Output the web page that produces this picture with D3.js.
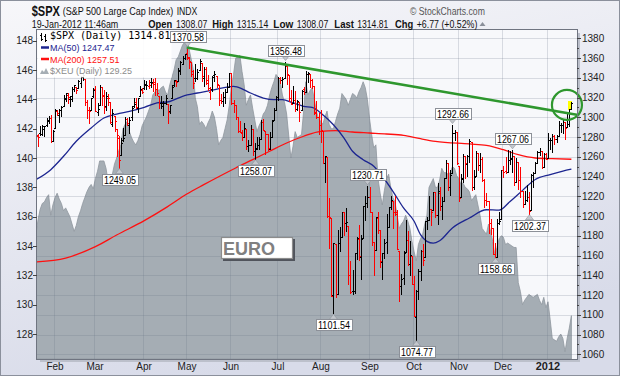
<!DOCTYPE html>
<html>
<head>
<meta charset="utf-8">
<script src="https://cdn.jsdelivr.net/npm/d3@7"></script>
<style>
html, body { margin: 0; padding: 0; background: #fff; }
svg { display: block; }
</style>
</head>
<body>
<div id="chart"></div>
<script>
// ---- Data (trading-day index 0 = 19-Jan-2011, 252 = 19-Jan-2012) ----
var spxOpen = [
1294.5,1280.9,1283.6,1283.3,1288.2,1291.9,1297.5,1299.6,1276.5,1289.1,
1305.9,1302.8,1307.0,1311.9,1318.8,1322.5,1318.1,1318.7,1328.7,1330.4,
1329.5,1334.4,1340.4,1338.9,1315.4,1307.1,1307.3,1321.6,1328.6,1305.5,
1312.4,1330.7,1322.7,1311.1,1319.9,1315.7,1293.4,1301.2,1288.5,1279.5,
1261.6,1276.7,1281.7,1298.3,1292.2,1300.6,1311.8,1315.5,1309.4,1321.9,
1327.4,1329.5,1333.6,1332.0,1335.9,1334.8,1336.2,1329.0,1321.9,1314.0,
1311.1,1314.5,1313.4,1305.9,1319.1,1333.2,1337.1,1336.7,1348.4,1353.9,
1360.1,1365.2,1359.8,1355.9,1344.2,1340.2,1340.2,1348.3,1354.5,1339.4,
1348.7,1334.8,1326.1,1328.5,1342.4,1342.0,1333.1,1317.7,1316.4,1320.6,
1325.7,1331.1,1345.2,1314.6,1312.9,1300.3,1286.3,1284.6,1279.6,1288.3,
1271.3,1272.2,1287.9,1265.5,1268.6,1271.5,1278.4,1295.5,1286.6,1283.0,
1268.4,1280.2,1296.9,1307.6,1320.6,1339.6,1337.6,1339.6,1352.4,1343.3,
1319.6,1314.5,1317.7,1308.9,1315.9,1307.1,1328.7,1325.7,1343.8,1344.3,
1337.4,1331.9,1304.8,1300.1,1292.6,1286.6,1254.2,1260.2,1200.3,1198.5,
1120.2,1171.8,1121.3,1172.9,1178.9,1204.2,1193.0,1189.6,1140.5,1123.6,
1124.4,1162.2,1176.7,1158.9,1177.9,1209.8,1213.0,1219.1,1203.9,1173.9,
1165.9,1198.0,1185.4,1153.5,1162.6,1173.3,1189.4,1209.2,1215.0,1204.5,
1203.6,1164.6,1128.8,1136.9,1163.3,1175.4,1151.7,1159.9,1131.2,1097.4,
1124.0,1144.1,1165.0,1158.2,1194.6,1196.2,1207.0,1205.7,1224.5,1200.8,
1223.5,1209.9,1215.4,1238.7,1254.2,1229.2,1244.0,1284.4,1285.0,1251.0,
1219.6,1238.2,1260.8,1253.2,1261.1,1275.2,1229.6,1240.1,1263.9,1251.7,
1257.8,1236.6,1216.2,1215.6,1193.0,1187.5,1161.4,1158.7,1192.6,1196.7,
1246.9,1246.0,1244.3,1257.2,1258.1,1260.9,1234.5,1255.1,1236.8,1225.7,
1212.1,1216.1,1219.7,1205.7,1241.3,1243.7,1254.0,1265.0,1265.4,1249.8,
1262.8,1258.9,1277.0,1277.3,1280.9,1277.8,1280.8,1292.0,1292.5,1294.8,
1290.2,1293.7,1308.07];

var spxHigh = [
1294.6,1283.4,1291.2,1291.9,1291.3,1299.7,1301.3,1302.7,1287.2,1308.9,
1307.6,1308.6,1311.0,1322.9,1324.9,1324.5,1322.0,1330.8,1332.9,1330.4,
1337.6,1341.5,1344.1,1338.9,1317.9,1310.9,1320.0,1329.4,1332.1,1314.2,
1332.3,1331.1,1327.7,1325.7,1323.2,1315.7,1308.4,1301.2,1288.5,1280.9,
1278.9,1288.9,1300.6,1299.4,1300.5,1311.3,1319.2,1319.7,1319.5,1331.7,
1329.8,1337.9,1336.7,1338.2,1339.5,1338.8,1339.5,1335.2,1321.9,1321.4,
1316.8,1322.9,1313.4,1312.7,1332.7,1337.5,1337.6,1349.6,1357.5,1361.7,
1364.6,1370.58,1360.8,1355.9,1348.0,1354.4,1349.4,1359.4,1354.5,1351.1,
1350.5,1343.3,1330.4,1341.8,1346.8,1342.0,1333.1,1323.7,1325.9,1328.5,
1334.6,1345.2,1345.2,1318.0,1312.9,1300.3,1296.2,1287.0,1294.5,1288.3,
1277.0,1292.5,1287.9,1274.1,1279.8,1280.4,1297.6,1298.6,1286.6,1283.0,
1284.9,1296.8,1309.2,1322.0,1341.0,1340.9,1340.9,1356.48,1352.4,1343.3,
1327.2,1331.5,1326.9,1317.7,1315.9,1328.1,1330.4,1347.0,1346.1,1344.3,
1338.5,1331.9,1316.3,1304.2,1307.4,1286.6,1261.2,1260.2,1218.1,1198.5,
1172.9,1171.8,1186.3,1189.0,1204.5,1204.2,1208.5,1189.6,1154.5,1145.5,
1162.4,1178.7,1190.7,1181.2,1210.1,1220.1,1230.71,1229.3,1203.9,1173.9,
1198.6,1204.4,1185.4,1162.5,1176.4,1202.4,1209.1,1220.1,1215.0,1220.4,
1206.3,1164.6,1141.7,1164.2,1195.9,1184.7,1175.1,1159.9,1139.0,1125.1,
1146.1,1165.6,1171.4,1194.9,1199.2,1220.3,1207.5,1224.6,1224.5,1233.1,
1229.6,1219.5,1239.0,1256.6,1254.2,1246.3,1292.66,1287.1,1285.0,1251.0,
1242.5,1263.2,1260.8,1261.7,1277.6,1275.2,1246.2,1266.0,1263.9,1264.3,
1259.6,1237.7,1223.5,1215.6,1196.8,1187.5,1172.7,1197.4,1203.7,1247.1,
1251.1,1260.1,1266.7,1266.0,1267.06,1260.9,1258.3,1255.1,1249.9,1225.7,
1225.6,1231.0,1224.6,1242.8,1245.1,1255.2,1265.4,1269.4,1265.9,1263.5,
1264.1,1284.6,1278.7,1283.1,1281.8,1282.0,1296.5,1293.8,1296.8,1294.8,
1303.0,1308.1,1315.14];

var spxLow = [
1278.9,1271.3,1282.1,1282.5,1281.1,1291.0,1294.4,1275.1,1275.9,1289.1,
1302.6,1294.8,1301.7,1311.9,1316.0,1314.9,1311.7,1316.1,1326.9,1324.6,
1329.5,1331.0,1338.1,1312.3,1299.6,1294.3,1307.3,1320.6,1306.1,1302.6,
1312.4,1312.6,1303.9,1306.9,1312.3,1294.2,1291.0,1286.4,1261.1,1249.05,
1261.6,1276.2,1281.7,1292.7,1284.0,1297.7,1310.2,1309.8,1305.3,1321.9,
1325.0,1328.9,1329.1,1330.0,1330.7,1326.6,1322.9,1322.4,1309.5,1309.2,
1302.4,1313.1,1294.7,1303.9,1319.1,1332.0,1331.7,1336.7,1344.2,1353.6,
1358.7,1358.6,1349.5,1341.5,1329.2,1336.4,1338.6,1348.3,1336.4,1332.0,
1333.4,1327.3,1318.5,1326.6,1336.8,1330.7,1312.6,1314.4,1311.8,1314.4,
1325.7,1331.1,1313.7,1305.6,1297.9,1284.9,1284.7,1277.5,1279.6,1268.3,
1265.6,1272.2,1261.9,1258.07,1267.4,1267.6,1278.4,1286.8,1262.9,1267.2,
1267.5,1280.2,1296.9,1307.6,1318.0,1334.3,1330.9,1339.6,1333.7,1316.4,
1313.3,1314.5,1306.5,1307.5,1295.9,1307.1,1323.7,1325.7,1336.0,1331.1,
1329.6,1303.6,1299.2,1282.9,1274.7,1254.0,1234.6,1199.5,1168.1,1119.3,
1101.54,1118.0,1121.3,1164.2,1178.9,1180.5,1184.4,1131.0,1122.1,1121.1,
1121.6,1156.3,1155.1,1135.9,1177.9,1195.8,1209.4,1203.9,1170.6,1140.1,
1165.9,1183.3,1148.4,1136.1,1157.4,1162.7,1189.4,1207.4,1188.4,1201.3,
1166.2,1114.2,1121.4,1131.1,1163.3,1150.4,1139.9,1131.3,1098.9,1074.77,
1116.1,1135.0,1150.3,1158.2,1187.3,1196.2,1190.6,1205.7,1198.6,1191.5,
1206.3,1197.3,1215.4,1238.7,1226.8,1221.1,1244.0,1277.0,1253.2,1215.4,
1219.6,1234.8,1238.9,1240.8,1255.0,1226.6,1227.7,1240.1,1246.7,1244.3,
1235.7,1209.4,1211.4,1183.2,1181.7,1161.8,1158.66,1158.7,1191.8,1196.7,
1239.7,1243.4,1244.3,1253.0,1244.8,1231.5,1234.5,1227.3,1219.4,1209.5,
1212.1,1215.2,1202.37,1205.7,1229.5,1243.7,1254.0,1262.3,1248.6,1249.8,
1257.5,1258.9,1268.1,1265.3,1273.3,1274.6,1280.8,1285.4,1284.0,1277.6,
1290.2,1291.0,1308.07];

var spxClose = [
1281.92,1280.26,1283.35,1290.84,1291.18,1296.63,1299.54,1276.34,1286.12,1307.59,
1304.03,1307.10,1310.87,1319.05,1324.57,1320.88,1321.87,1329.15,1332.32,1328.01,
1336.32,1340.43,1343.01,1315.44,1307.40,1306.10,1319.88,1327.22,1306.33,1308.44,
1330.97,1321.15,1310.13,1321.82,1320.02,1295.11,1304.28,1296.39,1281.87,1256.88,
1273.72,1279.21,1298.38,1293.77,1297.54,1309.66,1313.80,1310.19,1319.44,1328.26,
1325.83,1332.41,1332.87,1332.63,1335.54,1333.51,1328.17,1324.46,1314.16,1314.41,
1314.52,1319.68,1305.14,1312.62,1330.36,1337.38,1335.25,1347.24,1355.66,1360.48,
1363.61,1361.22,1356.62,1347.32,1335.10,1340.20,1346.29,1357.16,1342.08,1348.65,
1337.77,1329.47,1328.98,1340.68,1343.60,1333.27,1317.37,1316.28,1320.47,1325.69,
1331.10,1345.20,1314.55,1312.94,1300.16,1286.17,1284.94,1279.56,1289.00,1270.98,
1271.83,1287.87,1265.42,1267.64,1271.50,1278.36,1295.52,1287.14,1283.50,1268.45,
1280.10,1296.67,1307.41,1320.64,1339.67,1337.88,1339.22,1353.22,1343.80,1319.49,
1313.64,1317.72,1308.87,1316.14,1305.44,1326.73,1325.84,1343.80,1345.02,1337.43,
1331.94,1304.89,1300.67,1292.28,1286.94,1254.05,1260.34,1200.07,1199.38,1119.46,
1172.53,1120.76,1172.64,1178.81,1204.49,1192.76,1193.89,1140.65,1123.53,1123.82,
1162.35,1177.60,1159.27,1176.80,1210.08,1212.92,1218.89,1204.42,1173.97,1165.24,
1198.62,1185.90,1154.23,1162.27,1172.87,1188.68,1209.11,1216.01,1204.09,1202.09,
1166.76,1129.56,1136.43,1162.95,1175.38,1151.06,1160.40,1131.42,1099.23,1123.95,
1144.03,1164.97,1155.46,1194.89,1195.54,1207.25,1203.66,1224.58,1200.86,1225.38,
1209.88,1215.39,1238.25,1254.19,1229.05,1242.00,1284.59,1285.09,1253.30,1218.28,
1237.90,1261.15,1253.23,1261.12,1275.92,1229.10,1239.70,1263.85,1251.78,1257.81,
1236.91,1216.13,1215.65,1192.98,1188.04,1161.79,1158.67,1192.55,1195.19,1246.96,
1244.58,1244.28,1257.08,1258.47,1261.01,1234.35,1255.19,1236.47,1225.73,1211.82,
1215.75,1219.66,1205.35,1241.30,1243.72,1254.00,1265.33,1265.43,1249.64,1263.02,
1257.60,1277.06,1277.30,1281.06,1277.81,1280.70,1292.08,1292.48,1295.50,1289.09,
1293.67,1308.04,1314.81];

var xeuClose = [
134.8,135.8,136.5,136.9,137.0,137.3,137.5,136.1,136.8,137.3,
137.6,137.2,136.9,136.4,136.6,136.3,136.0,135.5,135.0,135.4,
136.0,136.4,136.9,137.3,137.7,138.0,138.2,137.9,138.6,139.1,
139.8,139.8,139.8,139.3,138.4,138.6,138.9,139.6,140.0,140.5,
140.9,142.0,142.3,142.5,141.8,141.4,141.1,140.9,141.2,141.6,
142.2,142.5,142.8,143.2,143.6,144.3,144.5,144.7,144.6,144.8,
144.9,144.5,144.3,145.0,145.5,146.0,146.7,146.9,147.3,147.7,
147.9,148.2,147.5,146.8,146.1,144.1,143.5,142.3,142.5,142.3,
142.0,142.4,142.7,143.2,142.8,142.0,140.9,141.2,141.4,142.0,
142.6,143.6,144.8,145.7,146.8,146.9,147.0,145.9,145.0,143.6,
144.0,144.3,143.4,142.6,141.8,142.2,142.5,143.0,143.2,143.6,
144.3,144.8,145.2,145.7,145.5,145.2,144.3,143.8,143.0,141.5,
140.0,140.8,141.8,141.4,141.5,141.6,143.2,145.2,144.3,144.6,
144.8,144.0,143.2,142.7,142.5,142.3,142.8,143.2,142.3,142.0,
142.0,142.5,143.0,143.4,144.4,144.2,144.0,143.6,144.0,144.4,
144.3,144.1,144.5,144.8,145.2,144.8,144.0,142.7,141.6,140.7,
140.9,138.6,137.6,136.8,137.8,138.6,138.9,138.0,137.3,137.0,
136.1,135.2,135.5,135.7,136.1,135.7,135.2,134.3,133.6,133.0,
134.1,134.5,134.8,135.5,136.1,138.0,138.3,138.6,138.0,138.0,
138.5,139.3,139.0,139.0,138.9,139.0,139.4,139.3,138.8,138.6,
138.2,138.3,138.0,137.9,137.7,137.1,137.3,137.5,136.8,136.1,
135.2,135.0,134.8,135.5,135.0,134.3,133.4,133.9,134.5,134.7,
134.6,134.1,134.2,134.1,134.0,133.9,133.9,131.5,130.9,130.0,
130.3,130.5,130.7,130.6,130.5,130.6,130.7,130.3,130.0,130.5,
129.8,130.2,129.0,127.7,127.6,127.5,127.8,128.0,127.7,126.8,
127.7,128.4,129.25];

// moving averages
var ma50Idx = [0,7,13,19,26,32,38,44,51,57,63,69,76,82,88,93,95,101,107,112,116,121,126,130,135,140,145,149,154,159,163,168,173,178,181,184,187,190,196,204,212,218,223,229,235,242,248,252];
var ma50Val = [1236.8,1247,1260.5,1275.7,1289.2,1299.3,1303.3,1306,1310.1,1314.5,1316,1321.3,1324.6,1326.9,1329.7,1331.4,1330.5,1324.6,1319.5,1317.8,1317.8,1314.5,1311.1,1310,1302.6,1292.5,1279,1265.6,1257.1,1250.4,1240.3,1225.1,1208.2,1194.7,1181.1,1174.4,1172.5,1175,1187.9,1198,1206.4,1206,1214.5,1226,1237,1242,1245.5,1247.47];
var ma200Idx = [0,14,28,38,51,62,71,79,94,102,110,118,126,134,141,149,157,165,173,181,188,204,212,220,227,235,243,252];
var ma200Val = [1153.5,1157.5,1169,1180.8,1195.3,1209.5,1222.3,1231.8,1248.7,1257.1,1265.6,1274,1280.8,1285.8,1286.5,1285.1,1284.1,1283.1,1281.7,1278.3,1275.7,1273,1271.6,1267.2,1262.1,1258.8,1258.1,1257.51];

// annotated highs / lows
var annoIdx  = [39, 71, 103, 117, 140, 156, 179, 196, 216, 224, 232];
var annoVal  = [1249.05, 1370.58, 1258.07, 1356.48, 1101.54, 1230.71, 1074.77, 1292.66, 1158.66, 1267.06, 1202.37];
var annoSide = ["low","high","low","high","low","high","low","high","low","high","low"];

// trend line and circle
var trendIdx = [71, 254.6];
var trendVal = [1370.6, 1302.6];
var circleIdx = 249.9, circleVal = 1312.5;

// axes
var monthLabels = ["Feb","Mar","Apr","May","Jun","Jul","Aug","Sep","Oct","Nov","Dec","2012"];
var monthIdx    = [9, 28, 51, 71, 92, 114, 134, 157, 178, 199, 220, 241];
var rightTicks  = d3.range(1060, 1381, 20);
var leftTicks   = d3.range(128, 149, 2);

// ---- Layout ----
var width = 620, height = 376;
var plot = { left: 37, right: 577, top: 30, bottom: 359 };

var x  = d3.scaleLinear().domain([0, 252]).range([35.9, 571.4]);
var yR = d3.scaleLinear().domain([1060, 1380]).range([354.3, 38.3]);
var yL = d3.scaleLinear().domain([128, 148]).range([334, 40.7]);

var svg = d3.select("#chart").append("svg")
    .attr("width", width)
    .attr("height", height)
    .style("font-family", "'Liberation Sans', Arial, sans-serif");

// text squeezed horizontally to a given width (the original uses a narrow face)
function fitText(parent, txt, xx, yy, w, opts) {
    opts = opts || {};
    var t = parent.append("text")
        .attr("font-size", opts.size || 11)
        .attr("font-weight", opts.bold ? "bold" : "normal")
        .attr("fill", opts.color || "#111")
        .attr("text-anchor", opts.anchor || "start")
        .text(txt);
    var nat = t.node().getComputedTextLength() || w;
    t.attr("transform", "translate(" + xx + "," + yy + ") scale(" + (w / nat).toFixed(3) + ",1)");
    return t;
}

var defs = svg.append("defs");
var grad = defs.append("linearGradient").attr("id", "bg")
    .attr("x1", 0).attr("y1", 0).attr("x2", 0.35).attr("y2", 1);
grad.append("stop").attr("offset", "0%").attr("stop-color", "#f7f7fa");
grad.append("stop").attr("offset", "100%").attr("stop-color", "#d8dbe9");
defs.append("clipPath").attr("id", "clip").append("rect")
    .attr("x", plot.left).attr("y", plot.top)
    .attr("width", plot.right - plot.left).attr("height", plot.bottom - plot.top);

svg.append("rect").attr("width", width).attr("height", height).attr("fill", "url(#bg)");
svg.append("rect").attr("x", 0.5).attr("y", 0.5).attr("width", width - 1).attr("height", height - 1)
    .attr("fill", "none").attr("stroke", "#8b909c");

// plot shadow + background
svg.append("rect").attr("x", plot.left + 3).attr("y", plot.top + 3)
    .attr("width", plot.right - plot.left).attr("height", plot.bottom - plot.top)
    .attr("fill", "#bcc0cb");
svg.append("rect").attr("x", plot.left).attr("y", plot.top)
    .attr("width", plot.right - plot.left).attr("height", plot.bottom - plot.top)
    .attr("fill", "#f7f8fb");

var g = svg.append("g").attr("clip-path", "url(#clip)");

// Euro area (left scale)
var area = d3.area()
    .x(function(d, i) { return x(i); })
    .y0(plot.bottom)
    .y1(function(d) { return yL(d); });
g.append("path").datum(xeuClose)
    .attr("d", area)
    .attr("fill", "#a5adb4")
    .attr("stroke", "#8f979e")
    .attr("stroke-width", 0.8);

// grid
var grid = g.append("g").attr("stroke", "rgba(105,115,130,0.22)").attr("shape-rendering", "crispEdges");
rightTicks.forEach(function(t) {
    var yy = Math.round(yR(t)) + 0.5;
    grid.append("line").attr("x1", plot.left).attr("x2", plot.right).attr("y1", yy).attr("y2", yy);
});
monthIdx.forEach(function(m) {
    var xx = Math.round(x(m)) - 0.5;
    grid.append("line").attr("x1", xx).attr("x2", xx).attr("y1", plot.top).attr("y2", plot.bottom);
});

// moving averages
var maLine = d3.line()
    .x(function(d) { return x(d[0]); })
    .y(function(d) { return yR(d[1]); })
    .curve(d3.curveMonotoneX);
g.append("path").datum(d3.zip(ma200Idx, ma200Val))
    .attr("d", maLine).attr("fill", "none").attr("stroke", "#ff1010").attr("stroke-width", 1.3);
g.append("path").datum(d3.zip(ma50Idx, ma50Val))
    .attr("d", maLine).attr("fill", "none").attr("stroke", "#1c2590").attr("stroke-width", 1.3);

// OHLC bars
var last = spxClose.length - 1;
var cl = Math.round(x(last));
g.append("rect")
    .attr("x", cl - 3).attr("width", 4)
    .attr("y", Math.round(yR(spxHigh[last])) - 1)
    .attr("height", Math.round(yR(spxLow[last])) - Math.round(yR(spxHigh[last])) + 2)
    .attr("fill", "#ffff00");

g.append("g").attr("shape-rendering", "crispEdges")
  .selectAll("path.bar")
  .data(spxClose)
  .enter()
  .append("path")
    .attr("class", "bar")
    .attr("fill", "none")
    .attr("stroke-width", 1)
    .attr("stroke", function(c, i) {
        var prev = i === 0 ? spxOpen[0] : spxClose[i - 1];
        return c >= prev ? "#000" : "#ff0000";
    })
    .attr("d", function(c, i) {
        var cx = Math.round(x(i));
        var yo = Math.round(yR(spxOpen[i])) + 0.5;
        var yc = Math.round(yR(c)) + 0.5;
        return "M" + (cx + 0.5) + "," + Math.round(yR(spxHigh[i])) +
               "V" + (Math.round(yR(spxLow[i])) + 1) +
               "M" + (cx - 1) + "," + yo + "H" + cx +
               "M" + (cx + 1) + "," + yc + "H" + (cx + 2);
    });

// trend line + circle
g.append("path").datum(d3.zip(trendIdx, trendVal))
    .attr("d", d3.line().x(function(d) { return x(d[0]); }).y(function(d) { return yR(d[1]); }))
    .attr("stroke", "#2e972e").attr("stroke-width", 2.6).attr("fill", "none");
svg.append("circle")
    .attr("cx", x(circleIdx)).attr("cy", yR(circleVal)).attr("r", 15)
    .attr("fill", "none").attr("stroke", "#2e972e").attr("stroke-width", 2.2);

// EURO label
svg.append("rect").attr("x", 223).attr("y", 239).attr("width", 72).attr("height", 22).attr("fill", "#50545c");
svg.append("rect").attr("x", 221.5).attr("y", 237.5).attr("width", 71).attr("height", 21)
    .attr("fill", "#fff").attr("stroke", "#8c8c8c").attr("stroke-width", 1.2);
svg.append("text").attr("x", 223).attr("y", 255)
    .attr("font-size", 18).attr("font-weight", "bold").attr("fill", "#808080")
    .text("EURO");

// legend
var lg = svg.append("g").attr("font-size", 9);
lg.append("rect").attr("x", plot.left + 0.5).attr("y", plot.top + 0.5).attr("width", 134).attr("height", 47)
    .attr("fill", "#ffffff").attr("opacity", 0.92);
lg.append("path").attr("d", "M41.5,33V41M40,35.5H41M41,39.5H43M45.5,34V42M44,36.5H45M45,40.5H47")
    .attr("stroke", "#000").attr("fill", "none").attr("shape-rendering", "crispEdges");
lg.append("text").attr("x", 50).attr("y", 39)
    .attr("font-family", "'DejaVu Sans Mono', monospace").attr("font-size", 10).attr("fill", "#000")
    .text("$SPX (Daily) 1314.81");
lg.append("line").attr("x1", 41).attr("x2", 49).attr("y1", 47.5).attr("y2", 47.5)
    .attr("stroke", "#1c2590").attr("stroke-width", 2.5);
lg.append("text").attr("x", 50).attr("y", 51).attr("fill", "#1c2590").text("MA(50) 1247.47");
lg.append("line").attr("x1", 41).attr("x2", 49).attr("y1", 59).attr("y2", 59)
    .attr("stroke", "#ff1010").attr("stroke-width", 2.5);
lg.append("text").attr("x", 50).attr("y", 62.5).attr("fill", "#ff1010").text("MA(200) 1257.51");
lg.append("path").attr("d", "M40,74L42,70L44,72L46,68L49,74Z").attr("fill", "#a6aeb5");
lg.append("text").attr("x", 50).attr("y", 74).attr("fill", "#8c8c8c").text("$XEU (Daily) 129.25");

// high / low callouts
annoIdx.forEach(function(idx, k) {
    var v = annoVal[k], up = annoSide[k] === "high";
    var cx = Math.round(x(idx)) + 0.5;
    var tip = yR(v) + (up ? -1 : 1);
    var bw = 36, bh = 11, th = 5;
    var base = up ? tip - th : tip + th;
    var by = up ? base - bh : base;
    svg.append("path")
        .attr("d", "M" + (cx - 4) + "," + base + "L" + cx + "," + tip + "L" + (cx + 4) + "," + base + "Z")
        .attr("fill", "#c3c7cd").attr("stroke", "#8c9098").attr("stroke-width", 0.6);
    svg.append("rect")
        .attr("x", Math.round(cx - bw / 2) + 0.5).attr("y", Math.round(by) + 0.5)
        .attr("width", bw).attr("height", bh)
        .attr("fill", "#fff").attr("stroke", "#8c9098");
    fitText(svg, v.toFixed(2), cx + 0.5, Math.round(by) + bh - 1.5, 32,
            { size: 10, anchor: "middle", color: "#000" });
});

// plot frame
svg.append("rect").attr("x", plot.left - 0.5).attr("y", plot.top - 0.5)
    .attr("width", plot.right - plot.left + 1).attr("height", plot.bottom - plot.top + 1)
    .attr("fill", "none").attr("stroke", "#6f7480").attr("shape-rendering", "crispEdges");

// right axis
var ra = svg.append("g").attr("font-size", 10).attr("fill", "#222");
d3.range(1060, 1381, 10).forEach(function(t) {
    var yy = Math.round(yR(t)) + 0.5;
    var major = t % 20 === 0;
    ra.append("line").attr("x1", plot.right).attr("x2", plot.right + (major ? 4 : 2))
        .attr("y1", yy).attr("y2", yy).attr("stroke", "#444").attr("shape-rendering", "crispEdges");
    if (major) ra.append("text").attr("x", plot.right + 5).attr("y", yR(t)).attr("dy", "0.35em").text(t);
});

// left axis
var la = svg.append("g").attr("font-size", 10).attr("fill", "#222");
leftTicks.forEach(function(t) {
    var yy = Math.round(yL(t)) + 0.5;
    la.append("line").attr("x1", plot.left - 4).attr("x2", plot.left)
        .attr("y1", yy).attr("y2", yy).attr("stroke", "#444").attr("shape-rendering", "crispEdges");
    la.append("text").attr("x", plot.left - 4).attr("y", yL(t)).attr("dy", "0.35em")
        .attr("text-anchor", "end").text(t);
});

// month labels
var mg = svg.append("g").attr("fill", "#222").attr("text-anchor", "middle");
monthLabels.forEach(function(m, k) {
    mg.append("text").attr("x", Math.round(x(monthIdx[k])))
        .attr("y", 370)
        .attr("font-weight", m === "2012" ? "bold" : "normal")
        .attr("font-size", m === "2012" ? 11 : 10)
        .text(m);
});

// header
var hd = svg.append("g");
fitText(hd, "$SPX", 31.7, 15.5, 28.3, { bold: true, size: 14 });
fitText(hd, "(S&P 500 Large Cap Index)", 62.7, 15, 110.7);
fitText(hd, "INDX", 176.7, 15, 20.7);
fitText(hd, "\u00a9 StockCharts.com", 410, 15, 75, { color: "#555" });
fitText(hd, "19-Jan-2012 11:46am", 31.7, 27.5, 86.7);
fitText(hd, "Open", 148.3, 27.5, 24, { bold: true });
fitText(hd, "1308.07", 176, 27.5, 31.3);
fitText(hd, "High", 212.3, 27.5, 21, { bold: true });
fitText(hd, "1315.14", 236.7, 27.5, 31.7);
fitText(hd, "Low", 273.3, 27.5, 20, { bold: true });
fitText(hd, "1308.07", 296.7, 27.5, 31.7);
fitText(hd, "Last", 334.3, 27.5, 19.7, { bold: true });
fitText(hd, "1314.81", 357.3, 27.5, 31);
fitText(hd, "Chg", 395, 27.5, 18.3, { bold: true });
fitText(hd, "+6.77 (+0.52%)", 416.7, 27.5, 60.7);
hd.append("path").attr("d", "M479.5,26L482.5,22L485.5,26Z").attr("fill", "#8a8f9a");
</script>
</body>
</html>
